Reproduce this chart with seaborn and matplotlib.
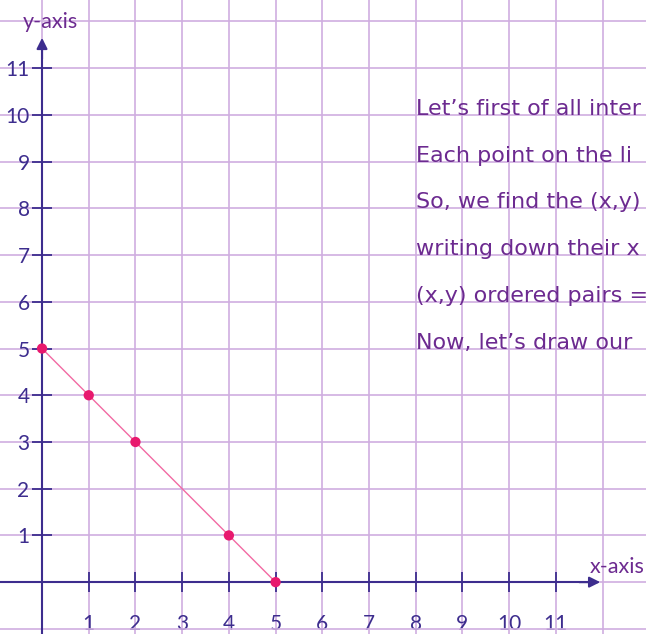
"""
Line x + y = 5 drawn on a square grid with arrowed x/y axes
"""
import numpy as np
import pandas as pd
import matplotlib
matplotlib.use('Agg')
import matplotlib.pyplot as plt
from matplotlib.ticker import MultipleLocator, FixedLocator
import seaborn as sns

# ============ data ============
x_vals = [0, 1, 2, 4, 5]
y_vals = [5, 4, 3, 1, 0]
x_ticks = list(range(1, 12))
y_ticks = list(range(1, 12))
# the explanation lines run off the right edge in the original, keep what is visible
note_lines = [
    "Let\u2019s first of all inter",
    "Each point on the li",
    "So, we find the (x,y)",
    "writing down their x",
    "(x,y) ordered pairs =",
    "Now, let\u2019s draw our",
]
note_rows = [10, 9, 8, 7, 6, 5]

# ============ style ============
sns.set_style('white')
plt.rcParams['font.family'] = ['Lato', 'DejaVu Sans']

GRID = '#cfaee0'
AXIS = '#3d2d8e'
TEXT = '#6c2a90'
DOT = '#e8196e'
LINE = '#f26aa3'

df = pd.DataFrame({'x': x_vals, 'y': y_vals})

fig = plt.figure(figsize=(6.46, 6.34), dpi=100)
ax = fig.add_axes([0, 0, 1, 1])
ax.set_xlim(-0.9, 12.93)
ax.set_ylim(-1.11, 12.46)

# grid on every integer
ax.xaxis.set_major_locator(FixedLocator(x_ticks))
ax.yaxis.set_major_locator(FixedLocator(y_ticks))
ax.xaxis.set_minor_locator(MultipleLocator(1))
ax.yaxis.set_minor_locator(MultipleLocator(1))
ax.grid(True, which='both', color=GRID, lw=1.2, zorder=0)
ax.set_axisbelow(True)

# axes through the origin
for side in ['top', 'right']:
    ax.spines[side].set_visible(False)
ax.spines['left'].set_position(('data', 0))
ax.spines['bottom'].set_position(('data', 0))
ax.spines['left'].set_bounds(-1.11, 11.45)
ax.spines['bottom'].set_bounds(-0.9, 11.75)
for side in ['left', 'bottom']:
    ax.spines[side].set_color(AXIS)
    ax.spines[side].set_linewidth(1.5)

ax.tick_params(bottom=True, left=True)
ax.tick_params(which='major', direction='inout', length=14, width=1.3,
               color=AXIS, labelcolor=AXIS, labelsize=15)
ax.tick_params(which='minor', length=0)
ax.tick_params(axis='x', pad=16)
ax.tick_params(axis='y', pad=2)
ax.set_xticklabels([str(t) for t in x_ticks])
ax.set_yticklabels([str(t) for t in y_ticks])
for lab in ax.get_yticklabels():
    lab.set_verticalalignment('center_baseline')

# arrow heads
ax.annotate('', xy=(11.95, 0), xytext=(11.5, 0),
            arrowprops=dict(arrowstyle='-|>', color=AXIS, lw=1.5,
                            mutation_scale=16, shrinkA=0, shrinkB=0))
ax.annotate('', xy=(0, 11.65), xytext=(0, 11.2),
            arrowprops=dict(arrowstyle='-|>', color=AXIS, lw=1.5,
                            mutation_scale=16, shrinkA=0, shrinkB=0))

ax.text(0.17, 11.86, 'y-axis', color=TEXT, fontsize=15.5, ha='center', va='baseline')
ax.text(11.72, 0.2, 'x-axis', color=TEXT, fontsize=15.5, ha='left', va='baseline',
        clip_on=True)

# the line and its points
sns.lineplot(data=df, x='x', y='y', color=LINE, lw=1, ax=ax, zorder=3)
sns.scatterplot(data=df, x='x', y='y', color=DOT, s=55, edgecolor='none',
                ax=ax, zorder=4)
ax.set_xlabel('')
ax.set_ylabel('')

# explanation text on the right
for row, line in zip(note_rows, note_lines):
    ax.text(8.0, row, line, color=TEXT, fontsize=16, family=['DejaVu Sans'],
            ha='left', va='baseline', clip_on=True)

fig.savefig('out.png', dpi=100)
